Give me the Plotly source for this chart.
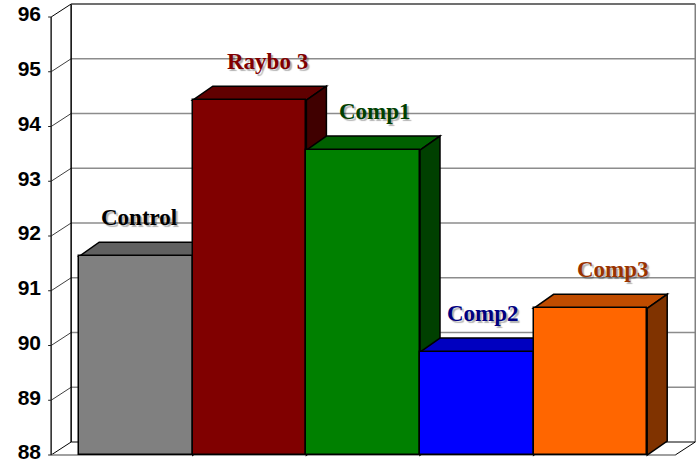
import plotly.graph_objects as go

# ---------------- data ----------------
categories = ["Control", "Raybo 3", "Comp1", "Comp2", "Comp3"]
values = [91.63, 94.48, 93.57, 89.88, 90.68]
y_ticks = [88, 89, 90, 91, 92, 93, 94, 95, 96]

# ---------------- style ----------------
front_colors = ["#808080", "#800000", "#008000", "#0000FF", "#FF6600"]
top_colors = ["#606060", "#600000", "#006000", "#0000C0", "#C04C00"]
side_colors = ["#404040", "#400000", "#004000", "#000080", "#803300"]
label_colors = ["#000000", "#800000", "#004000", "#000080", "#993300"]
label_xshift = [3, 18, 12, 6, 23]   # pixel nudges of the data labels
label_gap = 0.70                     # label centre above bar top (value units)

W, H = 699, 463
ml, mr, mt, mb = 46, 2, 2, 5
PX_X = 113.6          # pixels per category unit
PX_Y = 54.75          # pixels per value unit
C0_PX = 136           # pixel x of first category centre
Y0_PX = 455           # pixel y of the axis minimum (88)

y_min, y_max = y_ticks[0], y_ticks[-1]
x_lo = (ml - C0_PX) / PX_X
x_hi = x_lo + (W - ml - mr) / PX_X
y_lo = y_min - (H - mb - Y0_PX) / PX_Y
y_hi = y_min + (Y0_PX - mt) / PX_Y

bar_dx, bar_dy = 20 / PX_X, 14 / PX_Y      # depth of bars
wall_dx, wall_dy = 20 / PX_X, 13 / PX_Y    # depth of walls
pad = 0.247
n = len(categories)
xf_l = -0.5 - pad            # front-left corner of floor
xf_r = n - 0.5 + pad         # front-right corner of floor
xb_l, xb_r = xf_l + wall_dx, xf_r + wall_dx

shapes = []


def line(x0, y0, x1, y1, color, width):
    shapes.append(dict(type="line", xref="x", yref="y", x0=x0, y0=y0, x1=x1, y1=y1,
                       line=dict(color=color, width=width), layer="below"))


def poly(pts, fill):
    path = "M " + " L ".join(f"{px},{py}" for px, py in pts) + " Z"
    shapes.append(dict(type="path", xref="x", yref="y", path=path, fillcolor=fill,
                       line=dict(color="black", width=1.5), layer="below"))


# back wall background
shapes.append(dict(type="rect", xref="x", yref="y", x0=xb_l, x1=xb_r,
                   y0=y_min + wall_dy, y1=y_max + wall_dy, fillcolor="white",
                   line=dict(width=0), layer="below"))
# back wall gridlines
for t in y_ticks[1:-1]:
    line(xb_l, t + wall_dy, xb_r, t + wall_dy, "#8c8c8c", 1.5)
# left wall diagonals
for t in y_ticks:
    col = "#000000" if t in (y_min, y_max) else "#404040"
    line(xf_l, t, xb_l, t + wall_dy, col, 1)
# wall edges
line(xb_l, y_min + wall_dy, xb_l, y_max + wall_dy, "#000000", 1.5)
line(xb_l, y_max + wall_dy, xb_r, y_max + wall_dy, "#404040", 1.5)
line(xb_r, y_min + wall_dy, xb_r, y_max + wall_dy, "#808080", 1.5)
# floor
line(xf_l, y_min, xf_r, y_min, "#808080", 1.5)
line(xb_l, y_min + wall_dy, xb_r, y_min + wall_dy, "#000000", 1)
line(xf_r, y_min, xb_r, y_min + wall_dy, "#000000", 1)
# front value axis + ticks
line(xf_l, y_min, xf_l, y_max, "#202020", 1.5)
for t in y_ticks:
    line(xf_l - 3 / PX_X, t, xf_l, t, "#202020", 1)

# 3-D top and side faces of the bars (drawn left to right)
for i, v in enumerate(values):
    l, r = i - 0.5, i + 0.5
    poly([(l, v), (l + bar_dx, v + bar_dy), (r + bar_dx, v + bar_dy), (r, v)], top_colors[i])
    poly([(r, v), (r + bar_dx, v + bar_dy), (r + bar_dx, y_min + bar_dy), (r, y_min)], side_colors[i])

fig = go.Figure()
fig.add_trace(go.Bar(
    x=list(range(n)), y=[v - y_min for v in values], base=y_min, width=1.0,
    marker=dict(color=front_colors, line=dict(color="black", width=1.5)),
    hovertext=categories, showlegend=False,
))

annotations = []
for i, (c, v) in enumerate(zip(categories, values)):
    annotations.append(dict(
        x=i, y=v + label_gap, xref="x", yref="y", text=f"<b>{c}</b>", showarrow=False,
        xshift=label_xshift[i], yanchor="middle",
        font=dict(family="Liberation Serif", size=23, color=label_colors[i],
                  shadow="2px 2px 1px rgba(0,0,0,0.3)"),
    ))

fig.update_layout(
    width=W, height=H, margin=dict(l=ml, r=mr, t=mt, b=mb),
    paper_bgcolor="white", plot_bgcolor="white",
    shapes=shapes, annotations=annotations, bargap=0,
    xaxis=dict(range=[x_lo, x_hi], showgrid=False, zeroline=False, showticklabels=False,
               showline=False, fixedrange=True, automargin=False),
    yaxis=dict(range=[y_lo, y_hi], tickvals=y_ticks, ticktext=[f"<b>{t}</b>" for t in y_ticks],
               showgrid=False, zeroline=False, showline=False, ticks="",
               ticklabelstandoff=4, ticklabeloverflow="allow", automargin=False,
               ticklabelshift=-3,
               tickfont=dict(family="Liberation Sans", size=21, color="black"), fixedrange=True),
)

fig.write_html("out.html", config={"displayModeBar": False},
               post_script="document.body.style.margin='0px';")
